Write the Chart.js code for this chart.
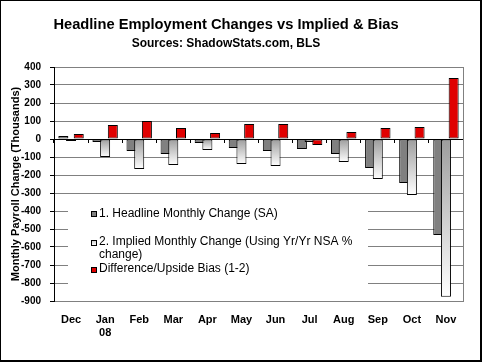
<!DOCTYPE html>
<html><head><meta charset="utf-8">
<script src="https://cdn.jsdelivr.net/npm/chart.js@4.4.1/dist/chart.umd.min.js"></script>
<style>html,body{margin:0;padding:0;background:#fff;}#wrap{width:482px;height:362px;position:relative;}canvas{display:block;}</style>
</head><body><div id="wrap"><canvas id="c" width="482" height="362"></canvas></div>
<script>
// ---- data ----
const categories = ['Dec','Jan 08','Feb','Mar','Apr','May','Jun','Jul','Aug','Sep','Oct','Nov'];
const tickLabels = [['Dec'],['Jan','08'],['Feb'],['Mar'],['Apr'],['May'],['Jun'],['Jul'],['Aug'],['Sep'],['Oct'],['Nov']];
const headline = [17, -17, -67, -83, -22, -50, -67, -56, -83, -161, -244, -533];
const implied  = [-11, -100, -167, -144, -61, -139, -150, -17, -128, -222, -311, -876];
const bias     = [28, 78, 100, 61, 33, 83, 83, -33, 39, 61, 67, 339];
const seriesNames = ['1. Headline Monthly Change (SA)', '2. Implied Monthly Change (Using Yr/Yr NSA % change)', 'Difference/Upside Bias (1-2)'];
const legendLines = [['1. Headline Monthly Change (SA)'], ['2. Implied Monthly Change (Using Yr/Yr NSA %', 'change)'], ['Difference/Upside Bias (1-2)']];
const titleText = 'Headline Employment Changes vs Implied & Bias';
const subtitleText = 'Sources: ShadowStats.com, BLS';
const yAxisTitle = 'Monthly Payroll Change (Thousands)';
const yMin = -900, yMax = 400, yStep = 100;

const FONT = '"Liberation Sans", Arial, sans-serif';
Chart.defaults.font.family = FONT;
Chart.defaults.color = '#000';

const GRAY = '#808080', RED = '#e00000';

function impliedFill(c) {
  const chart = c.chart, ys = chart.scales.y;
  if (c.type !== 'data' || !ys) return '#d0d0d0';
  const y0 = ys.getPixelForValue(0), y1 = ys.getPixelForValue(c.raw);
  if (!isFinite(y0) || !isFinite(y1) || Math.abs(y1 - y0) < 1) return '#eeeeee';
  const g = chart.ctx.createLinearGradient(0, y0, 0, y1);
  g.addColorStop(0, '#9c9c9c');
  g.addColorStop(1, '#ffffff');
  return g;
}

const framePlugin = {
  id: 'frame',
  beforeDatasetsDraw(chart) {
    const ctx = chart.ctx;
    // legend box
    ctx.save();
    ctx.fillStyle = '#fff';
    ctx.fillRect(68, 199, 300, 96);
    const rows = [{sq: 214, lines: [213.5]}, {sq: 242.5, lines: [241.5, 254.5]}, {sq: 269.5, lines: [268.5]}];
    ctx.font = '12px ' + FONT;
    ctx.textBaseline = 'middle';
    ctx.textAlign = 'left';
    rows.forEach((r, i) => {
      let fill;
      if (i === 0) fill = GRAY;
      else if (i === 2) fill = RED;
      else { fill = ctx.createLinearGradient(0, r.sq - 3, 0, r.sq + 3); fill.addColorStop(0, '#c0c0c0'); fill.addColorStop(1, '#ffffff'); }
      ctx.fillStyle = fill;
      ctx.fillRect(91, Math.round(r.sq - 3), 6, 6);
      ctx.strokeStyle = '#000'; ctx.lineWidth = 1;
      ctx.strokeRect(91.5, Math.round(r.sq - 3) + 0.5, 5, 5);
      ctx.fillStyle = '#000';
      legendLines[i].forEach((t, j) => ctx.fillText(t, 99, r.lines[j]));
    });
    ctx.restore();
    // draw series in natural order so later series sit on top
    for (let i = 0; i < chart.data.datasets.length; i++) {
      const m = chart.getDatasetMeta(i);
      if (!m.hidden) m.controller.draw();
    }
    return false;
  },
  afterDraw(chart) {
    const ctx = chart.ctx;
    ctx.save();
    ctx.fillStyle = '#000';
    ctx.textAlign = 'center';
    ctx.textBaseline = 'alphabetic';
    ctx.font = 'bold 14.7px ' + FONT;
    ctx.fillText(titleText, 226, 29);
    ctx.font = 'bold 12px ' + FONT;
    ctx.fillText(subtitleText, 226, 46.5);
    // outer frame
    ctx.fillRect(0, 0, 482, 1);
    ctx.fillRect(0, 0, 1, 362);
    ctx.fillRect(480, 0, 2, 362);
    ctx.fillRect(0, 360, 482, 2);
    ctx.restore();
  }
};

new Chart(document.getElementById('c'), {
  type: 'bar',
  data: {
    labels: categories,
    datasets: [
      {label: seriesNames[0], data: headline, backgroundColor: GRAY},
      {label: seriesNames[1], data: implied, backgroundColor: impliedFill},
      {label: seriesNames[2], data: bias, backgroundColor: RED}
    ]
  },
  options: {
    responsive: false,
    animation: false,
    events: [],
    layout: {padding: {top: 67, left: 0, right: 0, bottom: 0}},
    datasets: {bar: {categoryPercentage: 0.678, barPercentage: 1.3, borderColor: '#000', borderWidth: 1, borderSkipped: false}},
    plugins: {legend: {display: false}, tooltip: {enabled: false}, title: {display: false}},
    scales: {
      x: {
        type: 'category', position: 'bottom',
        afterFit(s) { s.height = 61; },
        grid: {display: false, drawTicks: false},
        border: {display: true, color: GRAY, width: 1},
        ticks: {font: {size: 11, weight: 'bold'}, padding: 12, maxRotation: 0, autoSkip: false,
                callback: (v, i) => tickLabels[i]}
      },
      x0: {
        type: 'category', axis: 'x', position: {y: 0}, offset: true, z: 1,
        grid: {display: true, offset: true, drawOnChartArea: false, drawTicks: true, tickLength: 3, tickColor: '#000', color: '#000'},
        border: {display: true, color: '#000', width: 1},
        ticks: {display: false}
      },
      y: {
        type: 'linear', position: 'left', min: yMin, max: yMax,
        afterFit(s) { s.width = 54; },
        ticks: {stepSize: yStep, font: {size: 10, weight: 'bold'}, padding: 9},
        grid: {color: GRAY, tickColor: '#000', tickLength: 4, drawTicks: true},
        border: {display: true, color: '#000', width: 1},
        title: {display: true, text: yAxisTitle, font: {size: 11, weight: 'bold'}, padding: {top: 9, bottom: 0}}
      },
      yR: {
        type: 'linear', position: 'right', display: true,
        afterFit(s) { s.width = 19; },
        grid: {drawOnChartArea: false, drawTicks: false},
        ticks: {display: false},
        border: {display: true, color: GRAY, width: 1}
      }
    }
  },
  plugins: [framePlugin]
});
</script>
</body></html>
